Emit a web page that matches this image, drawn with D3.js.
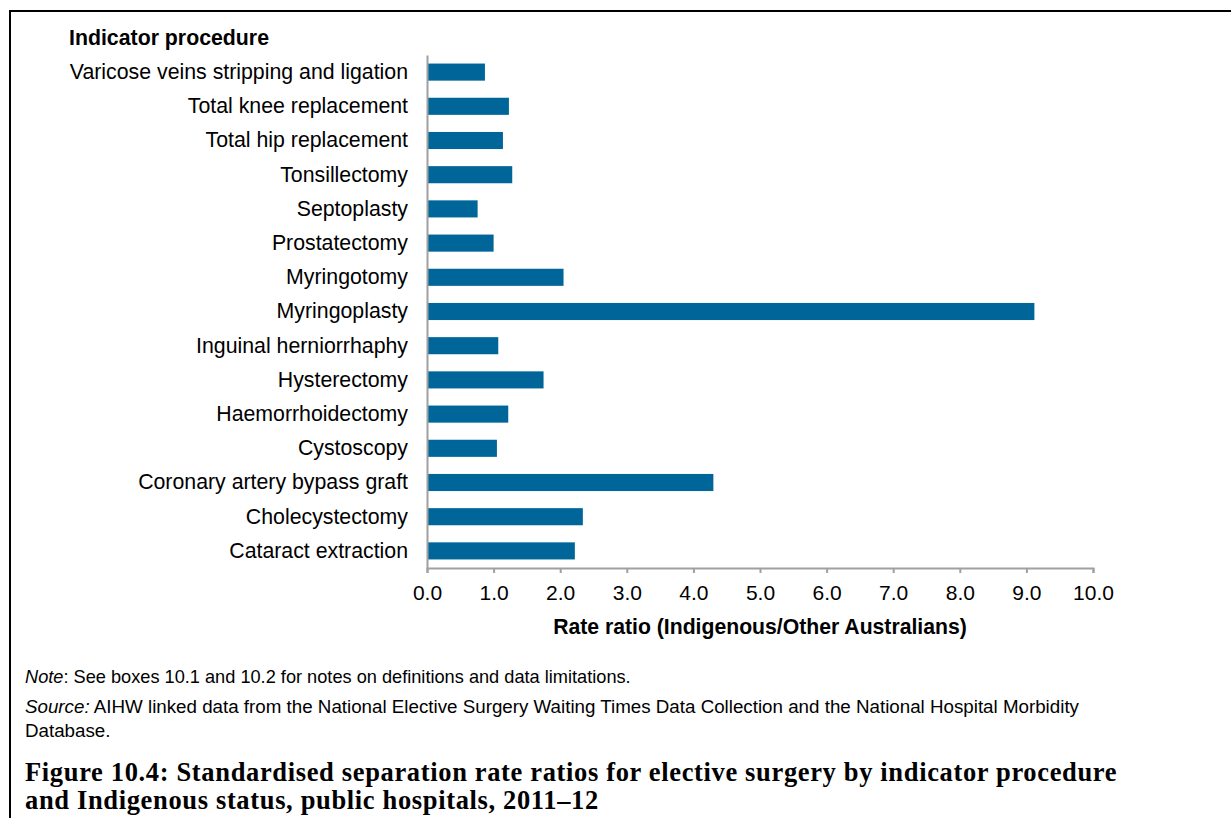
<!DOCTYPE html>
<html>
<head>
<meta charset="utf-8">
<script src="https://cdn.jsdelivr.net/npm/d3@7"></script>
<style>
  body { margin: 0; background: #fff; }
  svg { display: block; }
  text { font-family: "Liberation Sans", Arial, sans-serif; fill: #000; }
</style>
</head>
<body>
<svg id="chart" width="1231" height="818"></svg>
<script>
(function() {

  // ----------
  var procedures = [
    'Varicose veins stripping and ligation',
    'Total knee replacement',
    'Total hip replacement',
    'Tonsillectomy',
    'Septoplasty',
    'Prostatectomy',
    'Myringotomy',
    'Myringoplasty',
    'Inguinal herniorrhaphy',
    'Hysterectomy',
    'Haemorrhoidectomy',
    'Cystoscopy',
    'Coronary artery bypass graft',
    'Cholecystectomy',
    'Cataract extraction'
  ];

  var rateRatios = [0.87, 1.23, 1.14, 1.28, 0.76, 1.0, 2.05, 9.12, 1.07, 1.75, 1.22, 1.05, 4.30, 2.34, 2.22];

  var xTicks = [0, 1, 2, 3, 4, 5, 6, 7, 8, 9, 10];

  var titleLines = [
    'Figure 10.4: Standardised separation rate ratios for elective surgery by indicator procedure',
    'and Indigenous status, public hospitals, 2011\u201312'
  ];

  var barColor = '#006699';
  var axisColor = '#a0a0a0';

  var svg = d3.select('#chart');

  // ----------
  // frame (top and left rule only)
  svg.append('line')
    .attr('x1', 10).attr('x2', 1231)
    .attr('y1', 11).attr('y2', 11)
    .style('stroke', '#000').style('stroke-width', 2);

  svg.append('line')
    .attr('x1', 10).attr('x2', 10)
    .attr('y1', 10).attr('y2', 818)
    .style('stroke', '#000').style('stroke-width', 2);

  // ----------
  var x = d3.scaleLinear()
    .domain([0, 10])
    .range([427, 1093]);

  var y = d3.scaleBand()
    .domain(procedures)
    .range([55, 568])
    .paddingInner(0.5)
    .paddingOuter(0.25);

  var data = procedures.map(function(name, i) {
    return { name: name, value: rateRatios[i] };
  });

  // ----------
  svg.selectAll('rect.bar')
    .data(data)
    .enter().append('rect')
    .attr('class', 'bar')
    .attr('x', x(0))
    .attr('y', function(d) { return y(d.name); })
    .attr('width', function(d) { return x(d.value) - x(0); })
    .attr('height', y.bandwidth())
    .style('fill', barColor);

  // ----------
  var xAxis = svg.append('g')
    .attr('transform', 'translate(0,568)')
    .call(d3.axisBottom(x)
      .tickValues(xTicks)
      .tickFormat(d3.format('.1f'))
      .tickSizeInner(5)
      .tickSizeOuter(5)
      .tickPadding(12));

  xAxis.selectAll('path, line').style('stroke', axisColor).style('stroke-width', 2);
  xAxis.selectAll('text')
    .style('font-family', '"Liberation Sans", Arial, sans-serif')
    .style('font-size', '21px')
    .style('fill', '#000');

  var yAxis = svg.append('g')
    .attr('transform', 'translate(427,0)')
    .call(d3.axisLeft(y).tickSize(0).tickPadding(19));

  yAxis.select('path').style('stroke', axisColor).style('stroke-width', 2);
  yAxis.selectAll('text')
    .style('font-family', '"Liberation Sans", Arial, sans-serif')
    .style('font-size', '21.3px')
    .style('fill', '#000');

  // ----------
  svg.append('text')
    .attr('x', 69).attr('y', 45)
    .style('font-size', '21.3px')
    .style('font-weight', 'bold')
    .text('Indicator procedure');

  svg.append('text')
    .attr('x', 760).attr('y', 634)
    .attr('text-anchor', 'middle')
    .style('font-size', '21.2px')
    .style('font-weight', 'bold')
    .text('Rate ratio (Indigenous/Other Australians)');

  // ----------
  var note = svg.append('text')
    .attr('x', 25).attr('y', 683)
    .style('font-size', '18.2px');
  note.append('tspan').style('font-style', 'italic').text('Note');
  note.append('tspan').text(': See boxes 10.1 and 10.2 for notes on definitions and data limitations.');

  var source = svg.append('text')
    .attr('x', 25).attr('y', 713)
    .style('font-size', '18.75px');
  source.append('tspan').style('font-style', 'italic').text('Source:');
  source.append('tspan').text(' AIHW linked data from the National Elective Surgery Waiting Times Data Collection and the National Hospital Morbidity');

  svg.append('text')
    .attr('x', 25).attr('y', 737)
    .style('font-size', '18.75px')
    .text('Database.');

  // ----------
  svg.selectAll('text.title')
    .data(titleLines)
    .enter().append('text')
    .attr('class', 'title')
    .attr('x', 25)
    .attr('y', function(d, i) { return 781 + i * 28; })
    .style('font-family', '"Liberation Serif", "DejaVu Serif", serif')
    .style('font-size', '26.5px')
    .style('letter-spacing', '0.65px')
    .style('font-weight', 'bold')
    .text(function(d) { return d; });

})();
</script>
</body>
</html>
